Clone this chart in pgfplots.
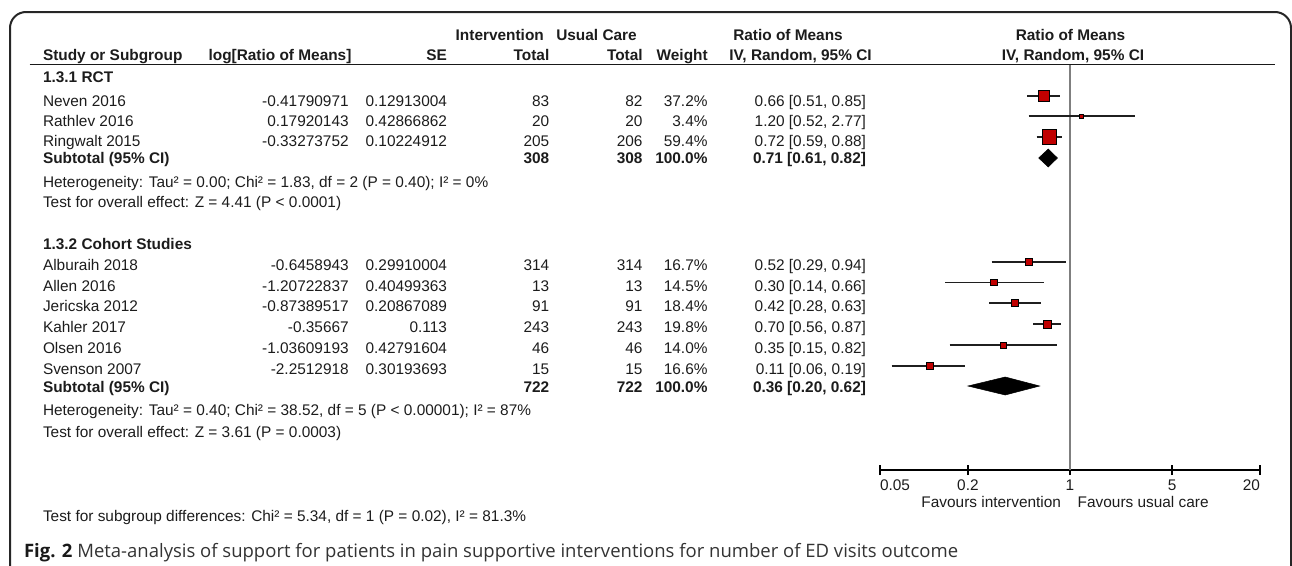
\documentclass[border=0pt]{standalone}
\usepackage{fontspec}
\setmainfont{Liberation Sans}
\newfontfamily\capfont{Open Sans}
\usepackage{pgfplots}
\pgfplotsset{compat=1.18}
\definecolor{txt}{HTML}{1C1C1C}
\definecolor{rmred}{HTML}{C00000}
\definecolor{vline}{HTML}{7F7F7F}
\definecolor{capgray}{HTML}{333333}

\newcommand\studyrow[8]{%
  \node[L] at (43,-#1) {#2};
  \node[R] at (348.7,-#1) {#3};
  \node[R] at (447,-#1) {#4};
  \node[R] at (549.3,-#1) {#5};
  \node[R] at (642.5,-#1) {#6};
  \node[R] at (707.5,-#1) {#7};
  \node[R] at (866,-#1) {#8};
}
\newcommand\subrow[6]{%
  \node[L] at (43,-#1) {\bfseries #2};
  \node[R] at (549.3,-#1) {\bfseries #3};
  \node[R] at (642.5,-#1) {\bfseries #4};
  \node[R] at (707.5,-#1) {\bfseries #5};
  \node[R] at (866,-#1) {\bfseries #6};
}
% forest helpers: lower, upper, estimate, row y (pixels), half side of square
\newcommand\study[5]{%
  \addplot[ciline] coordinates {(#1,-#4) (#2,-#4)};
  \addplot[only marks, mark=square*, mark size=#5pt,
           mark options={solid, fill=rmred, draw=none}] coordinates {(#3,-#4)};
}
\newcommand\diamondat[4]{% lower, est, upper, y
  \addplot[fill=black, draw=black, line width=0.5pt]
    coordinates {(#1,-#4) (#2,-#4+9) (#3,-#4) (#2,-#4-9)} -- cycle;
}

\begin{document}
\begin{tikzpicture}[x=1pt, y=1pt,
  font=\fontsize{15.4}{18}\selectfont,
  every node/.style={inner sep=0pt, outer sep=0pt, text=txt},
  L/.style={anchor=base west},
  R/.style={anchor=base east},
  C/.style={anchor=base}]
\useasboundingbox (0,0) rectangle (1292,-565);

% figure frame
\draw[line width=2pt, color=black!85, rounded corners=16pt]
  (10,-570) -- (10,-12) -- (1291,-12) -- (1291,-570);

% header
\node[L] at (455.7,-40) {\bfseries Intervention};
\node[L] at (556.3,-40) {\bfseries Usual Care};
\node[C] at (788,-40) {\bfseries Ratio of Means};
\node[C] at (1070.5,-40) {\bfseries Ratio of Means};
\node[L] at (43,-60.7) {\bfseries Study or Subgroup};
\node[C] at (280,-60.7) {\bfseries log[Ratio of Means]};
\node[R] at (447,-60.7) {\bfseries SE};
\node[R] at (549.3,-60.7) {\bfseries Total};
\node[R] at (642.7,-60.7) {\bfseries Total};
\node[R] at (707.7,-60.7) {\bfseries Weight};
\node[C] at (800.5,-60.7) {\bfseries IV, Random, 95\% CI};
\node[C] at (1073,-60.7) {\bfseries IV, Random, 95\% CI};
\draw[line width=1.3pt, color=black!90] (29.5,-64.5) -- (1275,-64.5);

% subgroup 1
\node[L] at (43,-82) {\bfseries 1.3.1 RCT};
\studyrow{106}{Neven 2016}{-0.41790971}{0.12913004}{83}{82}{37.2\%}{0.66 [0.51, 0.85]}
\studyrow{126}{Rathlev 2016}{0.17920143}{0.42866862}{20}{20}{3.4\%}{1.20 [0.52, 2.77]}
\studyrow{146}{Ringwalt 2015}{-0.33273752}{0.10224912}{205}{206}{59.4\%}{0.72 [0.59, 0.88]}
\subrow{163.5}{Subtotal (95\% CI)}{308}{308}{100.0\%}{0.71 [0.61, 0.82]}
\node[L] at (43,-187.5) {Heterogeneity: Tau² = 0.00; Chi² = 1.83, df = 2 (P = 0.40); I² = 0\%};
\node[L] at (43,-207.5) {Test for overall effect: Z = 4.41 (P < 0.0001)};

% subgroup 2
\node[L] at (43,-249.5) {\bfseries 1.3.2 Cohort Studies};
\studyrow{270.5}{Alburaih 2018}{-0.6458943}{0.29910004}{314}{314}{16.7\%}{0.52 [0.29, 0.94]}
\studyrow{291.2}{Allen 2016}{-1.20722837}{0.40499363}{13}{13}{14.5\%}{0.30 [0.14, 0.66]}
\studyrow{311.9}{Jericska 2012}{-0.87389517}{0.20867089}{91}{91}{18.4\%}{0.42 [0.28, 0.63]}
\studyrow{332.6}{Kahler 2017}{-0.35667}{0.113}{243}{243}{19.8\%}{0.70 [0.56, 0.87]}
\studyrow{353.3}{Olsen 2016}{-1.03609193}{0.42791604}{46}{46}{14.0\%}{0.35 [0.15, 0.82]}
\studyrow{374}{Svenson 2007}{-2.2512918}{0.30193693}{15}{15}{16.6\%}{0.11 [0.06, 0.19]}
\subrow{392.8}{Subtotal (95\% CI)}{722}{722}{100.0\%}{0.36 [0.20, 0.62]}
\node[L] at (43,-415.8) {Heterogeneity: Tau² = 0.40; Chi² = 38.52, df = 5 (P < 0.00001); I² = 87\%};
\node[L] at (43,-437.5) {Test for overall effect: Z = 3.61 (P = 0.0003)};

\node[L] at (43,-521.5) {Test for subgroup differences: Chi² = 5.34, df = 1 (P = 0.02), I² = 81.3\%};

% favours labels
\node[R] at (1061,-507.3) {Favours intervention};
\node[L] at (1077.7,-507.3) {Favours usual care};

% caption
\node[L, text=capgray] at (24,-557) {\capfont\fontsize{18.5}{21}\selectfont\textbf{\color{black!90}Fig. 2} Meta-analysis of support for patients in pain supportive interventions for number of ED visits outcome};

% forest plot
\begin{axis}[
  at={(880pt,-470pt)}, anchor=south west,
  scale only axis, width=380pt, height=405pt,
  xmode=log, xmin=0.05, xmax=20, ymin=-470, ymax=-65,
  axis x line=bottom, axis y line=none,
  x axis line style={-, line width=1.3pt, black},
  xtick={0.05,0.2,1,5,20},
  xticklabels={\makebox[0pt][l]{0.05},0.2,1,5,\makebox[0pt][r]{20}},
  minor xtick={},
  xticklabel style={anchor=base, yshift=-15.5pt, font=\fontsize{15.4}{18}\selectfont, text=txt},
  tick align=center, major tick length=10pt,
  tick style={line width=1.3pt, black},
  clip=false,
  ciline/.style={line width=1.3pt, color=black!88},
]
\addplot[line width=1.8pt, color=vline] coordinates {(1,-65) (1,-470)};
% RCT
\study{0.51}{0.85}{0.66}{96}{5.35}
\study{0.52}{2.77}{1.20}{116}{1.9}
\study{0.59}{0.88}{0.72}{137}{7.4}
\diamondat{0.61}{0.71}{0.82}{158}
% Cohort
\study{0.29}{0.94}{0.52}{262}{3.5}
\study{0.14}{0.66}{0.30}{282.5}{3.1}
\study{0.28}{0.63}{0.42}{303}{3.6}
\study{0.56}{0.87}{0.70}{324}{3.7}
\study{0.15}{0.82}{0.35}{345}{3.0}
\study{0.06}{0.19}{0.11}{366}{3.5}
\diamondat{0.20}{0.36}{0.62}{386}
\end{axis}
\end{tikzpicture}
\end{document}
